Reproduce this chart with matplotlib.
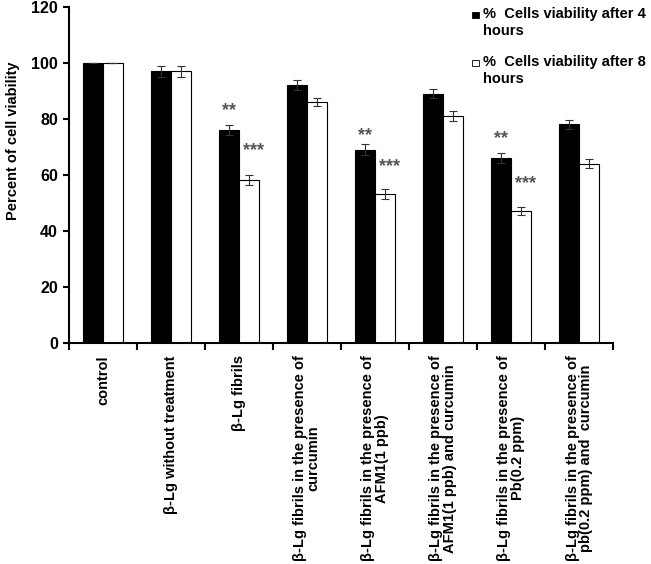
import numpy as np
import matplotlib
matplotlib.use("Agg")
import matplotlib.pyplot as plt
from matplotlib.patches import Rectangle
from matplotlib.ticker import FixedLocator

plt.rcParams['font.family'] = ['Liberation Sans', 'DejaVu Sans']
plt.rcParams['font.weight'] = 'bold'

categories = [
    "control",
    "β-Lg without treatment",
    "β-Lg fibrils",
    "β-Lg fibrils in the presence of\ncurcumin",
    "β-Lg fibrils in the presence of\nAFM1(1 ppb)",
    "β-Lg fibrils in the presence of\nAFM1(1 ppb) and curcumin",
    "β-Lg fibrils in the presence of\nPb(0.2 ppm)",
    "β-Lg fibrils in the presence of\npb(0.2 ppm) and  curcumin",
]
viab_4h = [100, 97, 76, 92, 69, 89, 66, 78]
err_4h = [0, 2, 1.8, 1.8, 2, 1.5, 1.8, 1.5]
viab_8h = [100, 97, 58, 86, 53, 81, 47, 64]
err_8h = [0, 2, 1.8, 1.5, 1.8, 1.8, 1.5, 1.5]
stars_4h = ["", "", "**", "", "**", "", "**", ""]
stars_4h_y = [0, 0, 83, 0, 74, 0, 73, 0]
stars_8h = ["", "", "***", "", "***", "", "***", ""]
stars_8h_y = [0, 0, 68.5, 0, 63, 0, 57, 0]
legend_labels = ["%  Cells viability after 4\nhours", "%  Cells viability after 8\nhours"]

fig = plt.figure(figsize=(6.51, 5.64), dpi=100)
ax = fig.add_axes([0.106, 0.392, 0.836, 0.596])

x = np.arange(len(categories)) + 0.5
w = 0.294
ekw = dict(ecolor='#333333', elinewidth=0.8, capsize=3, capthick=0.8)
ax.bar(x - w / 2, viab_4h, w, color='black', edgecolor='black', linewidth=0.8,
       yerr=err_4h, error_kw=ekw)
ax.bar(x + w / 2, viab_8h, w, color='white', edgecolor='black', linewidth=0.8,
       yerr=err_8h, error_kw=ekw)

for i in range(len(categories)):
    if stars_4h[i]:
        ax.text(x[i] - w / 2, stars_4h_y[i], stars_4h[i], ha='center', va='center',
                fontsize=13, color='#555555')
    if stars_8h[i]:
        ax.text(x[i] + w / 2 + 0.06, stars_8h_y[i], stars_8h[i], ha='center', va='center',
                fontsize=13, color='#555555')

ax.set_xlim(0, len(categories))
ax.set_ylim(0, 120)
ax.set_yticks(np.arange(0, 121, 20))
ax.set_xticks(x)
ax.set_xticklabels(categories, rotation=90, ha='center', va='top',
                   multialignment='center', fontsize=10.5, fontweight='bold',
                   linespacing=0.95)
ax.xaxis.set_minor_locator(FixedLocator(np.arange(0, len(categories) + 1)))
ax.tick_params(axis='x', which='major', length=0, pad=9)
ax.tick_params(axis='x', which='minor', length=5, width=1.5, direction='out')
ax.tick_params(axis='y', length=4, width=1.5, direction='out', labelsize=11.5, pad=4)
for lab in ax.get_yticklabels():
    lab.set_fontweight('bold')
ax.set_ylabel("Percent of cell viability", fontsize=10.5, fontweight='bold')
ax.yaxis.set_label_coords(-0.09, 0.6)

ax.spines['top'].set_visible(False)
ax.spines['right'].set_visible(False)
ax.spines['left'].set_linewidth(1.5)
ax.spines['bottom'].set_linewidth(1.5)

# legend drawn by hand: square marker next to the first line of each label
W, H = 651, 564
for k, (lab, fc) in enumerate(zip(legend_labels, ['black', 'white'])):
    y_line = 15 + k * 48
    fig.patches.append(Rectangle((472 / W, 1 - (y_line + 3) / H), 6.5 / W, 6.5 / H,
                                 facecolor=fc, edgecolor='black', linewidth=0.6,
                                 transform=fig.transFigure))
    fig.text(483 / W, 1 - (y_line - 8) / H, lab, ha='left', va='top',
             fontsize=10.5, fontweight='bold', linespacing=1.25)

fig.savefig("out.png", dpi=100)
